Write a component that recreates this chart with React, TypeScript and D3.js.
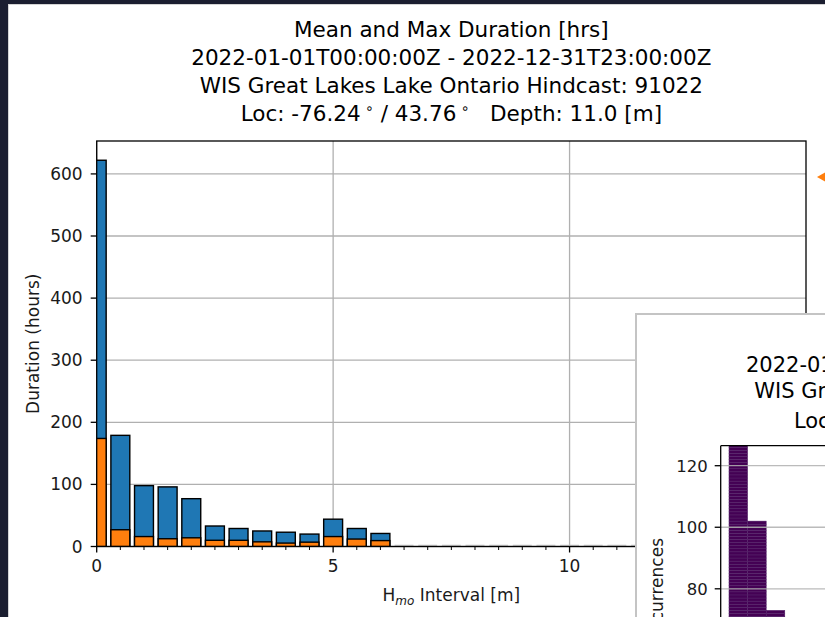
import React from "react";
import * as d3 from "d3";

// ---------- data ----------
const titleLines = [
  "Mean and Max Duration [hrs]",
  "2022-01-01T00:00:00Z - 2022-12-31T23:00:00Z",
  "WIS Great Lakes Lake Ontario Hindcast: 91022",
];
const locText = ["Loc: -76.24", " / 43.76", "   Depth: 11.0 [m]"];

const binCenters = [
  0, 0.5, 1, 1.5, 2, 2.5, 3, 3.5, 4, 4.5, 5, 5.5, 6, 6.5, 7, 7.5, 8, 8.5, 9,
  9.5, 10, 10.5, 11, 11.5, 12, 12.5, 13, 13.5, 14, 14.5, 15,
];
const maxDuration = [
  622, 179, 98, 96, 77, 33, 29, 25, 23, 20, 44, 29, 21, 0, 0, 0, 0, 0, 0, 0, 0,
  0, 0, 0, 0, 0, 0, 0, 0, 0, 0,
];
const meanDuration = [
  174, 27, 16, 12.5, 14, 10, 10, 7.5, 5.5, 7, 16, 12, 9.5, 0, 0, 0, 0, 0, 0, 0,
  0, 0, 0, 0, 0, 0, 0, 0, 0, 0, 0,
];
const yTicks = [0, 100, 200, 300, 400, 500, 600];
const xTicks = [0, 5, 10];
const xMinorTicks = [
  0.5, 1, 1.5, 2, 2.5, 3, 3.5, 4, 4.5, 5.5, 6, 6.5, 7, 7.5, 8, 8.5, 9, 9.5,
  10.5, 11, 11.5, 12, 12.5, 13, 13.5, 14, 14.5,
];

// second (overlapping) window
const win2Title = [
  "2022-01-01T00:00:00Z - 2022-12-31T23:00:00Z",
  "WIS Great Lakes Lake Ontario Hindcast: 91022",
];
const occBins = [0, 1, 2];
const occCounts = [180, 102, 73];
const occYTicks = [80, 100, 120];

// ---------- styling ----------
const FONT = "'DejaVu Sans', Verdana, sans-serif";
const BLUE = "#1f77b4";
const ORANGE = "#ff7f0e";
const GRID = "#b0b0b0";
const PURPLE = "#440154";

export default function App() {
  const W = 825;
  const H = 617;
  const ax = { left: 96.7, right: 806, top: 141, bottom: 546.5 };

  const x = d3.scaleLinear().domain([0, 15]).range([ax.left, ax.right]);
  const y = d3.scaleLinear().domain([0, 653]).range([ax.bottom, ax.top]);
  const barW = x(0.4) - x(0);

  // window 2 geometry
  const win = { left: 636, top: 314 };
  const ax2 = { left: 720.7, top: 445.7 };
  const y2 = d3.scaleLinear().domain([0, 126.5]).range([835, ax2.top]);
  const x2 = d3.scaleLinear().domain([0, 1]).range([729, 747.6]);

  const titleCx = (ax.left + ax.right) / 2;

  return (
    <div style={{ position: "fixed", left: 0, top: 0, width: W, height: H }}>
      <svg width={W} height={H} style={{ display: "block" }} fontFamily={FONT}>
        <defs>
          <clipPath id="axclip">
            <rect x={ax.left} y={ax.top - 1} width={ax.right - ax.left} height={ax.bottom - ax.top + 1} />
          </clipPath>
          <clipPath id="ax2clip">
            <rect x={ax2.left} y={ax2.top} width={W - ax2.left} height={H - ax2.top} />
          </clipPath>
        </defs>
        <rect x={0} y={0} width={W} height={H} fill="#ffffff" />
        {/* dark screen frame */}
        <rect x={0} y={0} width={8} height={H} fill="#1b1e30" />
        <rect x={0} y={0} width={W} height={4} fill="#1b1e30" />
        <line x1={8.5} x2={8.5} y1={4} y2={H} stroke="#d4d4d4" strokeWidth={1} />
        <line x1={8} x2={W} y1={4.5} y2={4.5} stroke="#d4d4d4" strokeWidth={1} />

        {/* title */}
        {titleLines.map((t, i) => (
          <text key={i} x={titleCx} y={37 + i * 28} fontSize={21.5} textAnchor="middle" fill="#000">
            {t}
          </text>
        ))}
        <text x={titleCx} y={121} fontSize={21.5} textAnchor="middle" fill="#000" style={{ whiteSpace: "pre" }}>
          {locText[0]}
          <tspan fontSize={14} dy={-8}>{" \u2218"}</tspan>
          <tspan dy={8}>{locText[1]}</tspan>
          <tspan fontSize={14} dy={-8}>{" \u2218"}</tspan>
          <tspan dy={8}>{locText[2]}</tspan>
        </text>

        {/* grid */}
        {yTicks.map((t) => (
          <line key={"gy" + t} x1={ax.left} x2={ax.right} y1={y(t)} y2={y(t)} stroke={GRID} strokeWidth={1.3} />
        ))}
        {xTicks.map((t) => (
          <line key={"gx" + t} x1={x(t)} x2={x(t)} y1={ax.top} y2={ax.bottom} stroke={GRID} strokeWidth={1.3} />
        ))}

        {/* bars */}
        <g clipPath="url(#axclip)">
          {binCenters.map((c, i) =>
            maxDuration[i] > 0 ? (
              <rect
                key={"b" + i}
                x={x(c) - barW / 2}
                y={y(maxDuration[i])}
                width={barW}
                height={y(0) - y(maxDuration[i])}
                fill={BLUE}
                stroke="#000"
                strokeWidth={1.4}
              />
            ) : (
              <line
                key={"z" + i}
                x1={x(c) - barW / 2}
                x2={x(c) + barW / 2}
                y1={y(0) - 1.2}
                y2={y(0) - 1.2}
                stroke="#c4c4c4"
                strokeWidth={1.2}
              />
            )
          )}
          {binCenters.map((c, i) =>
            meanDuration[i] > 0 ? (
              <rect
                key={"o" + i}
                x={x(c) - barW / 2}
                y={y(meanDuration[i])}
                width={barW}
                height={y(0) - y(meanDuration[i])}
                fill={ORANGE}
                stroke="#000"
                strokeWidth={1.4}
              />
            ) : null
          )}
        </g>

        {/* spines */}
        <rect
          x={ax.left}
          y={ax.top}
          width={ax.right - ax.left}
          height={ax.bottom - ax.top}
          fill="none"
          stroke="#000"
          strokeWidth={1.3}
        />

        {/* y ticks */}
        {yTicks.map((t) => (
          <g key={"yt" + t}>
            <line x1={ax.left - 6} x2={ax.left} y1={y(t)} y2={y(t)} stroke="#000" strokeWidth={1.3} />
            <text x={ax.left - 14} y={y(t) + 6} fontSize={17} textAnchor="end" fill="#1a1a1a">
              {t}
            </text>
          </g>
        ))}
        {/* x ticks */}
        {xTicks.map((t) => (
          <g key={"xt" + t}>
            <line x1={x(t)} x2={x(t)} y1={ax.bottom} y2={ax.bottom + 6} stroke="#000" strokeWidth={1.3} />
            <text x={x(t)} y={ax.bottom + 25} fontSize={17} textAnchor="middle" fill="#1a1a1a">
              {t}
            </text>
          </g>
        ))}
        {xMinorTicks.map((t) => (
          <line key={"xm" + t} x1={x(t)} x2={x(t)} y1={ax.bottom} y2={ax.bottom + 3.5} stroke="#000" strokeWidth={1} />
        ))}

        {/* axis labels */}
        <text x={titleCx} y={601} fontSize={17} textAnchor="middle" fill="#1a1a1a">
          H
          <tspan fontSize={12} fontStyle="italic" dy={4}>mo</tspan>
          <tspan dy={-4}>{" Interval [m]"}</tspan>
        </text>
        <text
          transform={`translate(38.5, ${(ax.top + ax.bottom) / 2}) rotate(-90)`}
          fontSize={17}
          textAnchor="middle"
          fill="#1a1a1a"
        >
          Duration (hours)
        </text>

        {/* orange marker at right edge */}
        <path
          d={d3.line()([
            [817, 177],
            [826, 172],
            [826, 182],
          ]) + "Z"}
          fill={ORANGE}
        />

        {/* ---------- overlapping second window ---------- */}
        <rect x={win.left} y={win.top} width={W - win.left + 10} height={H - win.top + 10} fill="#fff" stroke="#c4c4c4" strokeWidth={2} />
        {win2Title.map((t, i) => (
          <text key={"w" + i} x={1000} y={371.5 + i * 26} fontSize={21} textAnchor="middle" fill="#000">
            {t}
          </text>
        ))}
        <text x={1000} y={427.5} fontSize={21} textAnchor="middle" fill="#000" style={{ whiteSpace: "pre" }}>
          {locText[0]}
          <tspan fontSize={14} dy={-8}>{" \u2218"}</tspan>
          <tspan dy={8}>{locText[1]}</tspan>
          <tspan fontSize={14} dy={-8}>{" \u2218"}</tspan>
          <tspan dy={8}>{locText[2]}</tspan>
        </text>

        <g clipPath="url(#ax2clip)">
          {occBins.map((b, i) => (
            <g key={"ob" + b}>
              {d3.range(occCounts[i]).map((k) => (
                <rect
                  key={k}
                  x={x2(b)}
                  y={y2(k + 1)}
                  width={x2(b + 1) - x2(b)}
                  height={y2(k) - y2(k + 1)}
                  fill={PURPLE}
                  stroke="#55256a"
                  strokeWidth={0.5}
                />
              ))}
            </g>
          ))}
          {occYTicks.map((t) => (
            <line key={"g2" + t} x1={ax2.left} x2={W} y1={y2(t)} y2={y2(t)} stroke={GRID} strokeWidth={1.3} opacity={0.85} />
          ))}
        </g>
        <line x1={ax2.left} x2={W} y1={ax2.top} y2={ax2.top} stroke="#000" strokeWidth={1.3} />
        <line x1={ax2.left} x2={ax2.left} y1={ax2.top} y2={H} stroke="#000" strokeWidth={1.3} />
        {occYTicks.map((t) => (
          <g key={"t2" + t}>
            <line x1={ax2.left - 6} x2={ax2.left} y1={y2(t)} y2={y2(t)} stroke="#000" strokeWidth={1.3} />
            <text x={ax2.left - 13} y={y2(t) + 6} fontSize={16.5} textAnchor="end" fill="#1a1a1a">
              {t}
            </text>
          </g>
        ))}
        <text transform="translate(663, 538) rotate(-90)" fontSize={17} textAnchor="end" fill="#1a1a1a">
          Occurrences
        </text>
      </svg>
    </div>
  );
}
